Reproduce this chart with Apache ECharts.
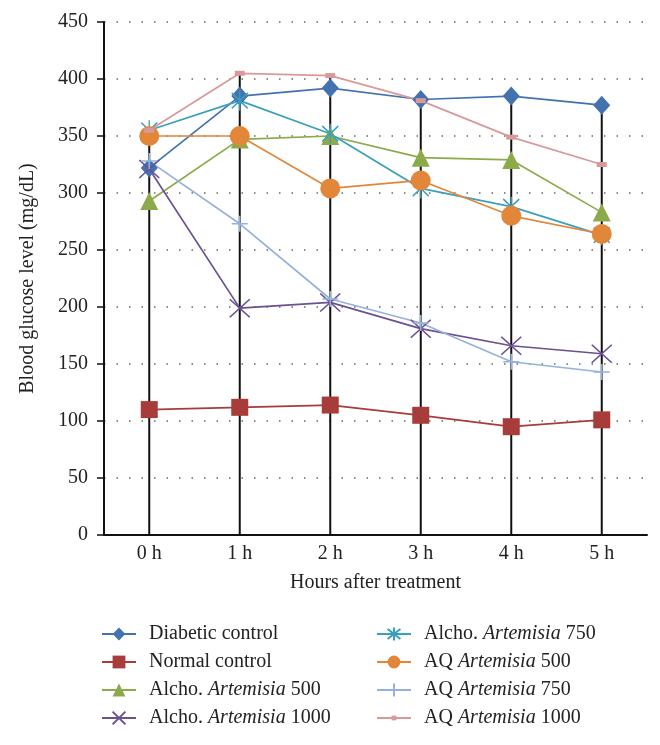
<!DOCTYPE html>
<html>
<head>
<meta charset="utf-8">
<script src="https://cdn.jsdelivr.net/npm/echarts@6/dist/echarts.min.js"></script>
<style>html,body{margin:0;padding:0;background:#fff;}#c{width:660px;height:745px;}</style>
</head>
<body>
<div id="c"></div>
<script>
const categories = ['0 h', '1 h', '2 h', '3 h', '4 h', '5 h'];
const yTicks = [0, 50, 100, 150, 200, 250, 300, 350, 400, 450];

const diabeticControl = [322, 385, 392, 382, 385, 377];
const normalControl = [110, 112, 114, 105, 95, 101];
const alcho500 = [293, 347, 350, 331, 329, 283];
const alcho1000 = [321, 199, 204, 181, 166, 159];
const alcho750 = [355, 381, 352, 304, 288, 263];
const aq500 = [350, 350, 304, 311, 280, 264];
const aq750 = [328, 273, 207, 186, 152, 143];
const aq1000 = [355, 405, 403, 381, 349, 325];

const seriesNames = ['Diabetic control', 'Normal control', 'Alcho. Artemisia 500', 'Alcho. Artemisia 1000',
  'Alcho. Artemisia 750', 'AQ Artemisia 500', 'AQ Artemisia 750', 'AQ Artemisia 1000'];
const seriesData = [diabeticControl, normalControl, alcho500, alcho1000, alcho750, aq500, aq750, aq1000];
const dropLineTops = categories.map((c, i) => Math.max(...seriesData.map(s => s[i])));

const FONT = '"Liberation Serif", "Times New Roman", serif';
const FS = 20;
const styles = [
  {color: '#4472b0', symbol: 'diamond', size: [17, 19]},
  {color: '#a83c3a', symbol: 'rect', size: 17},
  {color: '#8bab4a', symbol: 'triangle', size: 18},
  {color: '#6b5191', symbol: 'path://M0,0L10,10M10,0L0,10', size: [20, 18], stroke: true},
  {color: '#3aa0bb', symbol: 'path://M0,0L10,10M10,0L0,10M5,-1.5L5,11.5', size: [16, 20], stroke: true},
  {color: '#e2873a', symbol: 'circle', size: 20},
  {color: '#95b1dc', symbol: 'path://M5,0L5,10M0,5L10,5', size: [16, 16], stroke: true},
  {color: '#d9999a', symbol: 'rect', size: [10, 5]}
];

const lineSeries = seriesNames.map((name, i) => {
  const st = styles[i];
  return {
    name: name,
    type: 'line',
    data: seriesData[i],
    symbol: st.symbol,
    symbolSize: st.size,
    showAllSymbol: true,
    z: 3,
    lineStyle: {color: st.color, width: 1.7},
    itemStyle: st.stroke ? {color: st.color, borderColor: st.color, borderWidth: 1.5} : {color: st.color, borderWidth: 0}
  };
});

const fmt = name => name.replace('Artemisia', '{i|Artemisia}');
const legendText = {
  fontFamily: FONT, fontSize: FS, color: '#222', padding: [0, 0, 0, 8],
  rich: {i: {fontFamily: FONT, fontSize: FS, fontStyle: 'italic', color: '#222'}}
};

const option = {
  animation: false,
  backgroundColor: '#fff',
  grid: {left: 104, right: 13, top: 22, bottom: 210, containLabel: false},
  legend: [
    {orient: 'vertical', left: 96, top: 619, height: 125, itemWidth: 34, itemHeight: 16, itemGap: 8,
     data: seriesNames.slice(0, 4), formatter: fmt, textStyle: legendText, selectedMode: false},
    {orient: 'vertical', left: 371, top: 619, height: 125, itemWidth: 34, itemHeight: 16, itemGap: 8,
     data: seriesNames.slice(4, 7), formatter: fmt, textStyle: legendText, selectedMode: false},
    {orient: 'vertical', left: 371, top: 703, itemWidth: 34, itemHeight: 6, itemGap: 8,
     data: seriesNames.slice(7), formatter: fmt, textStyle: legendText, selectedMode: false}
  ],
  xAxis: {
    type: 'category',
    data: categories,
    boundaryGap: true,
    name: 'Hours after treatment',
    nameLocation: 'middle',
    nameGap: 38,
    nameTextStyle: {fontFamily: FONT, fontSize: FS, color: '#222'},
    axisLine: {lineStyle: {color: '#111', width: 2}},
    axisTick: {show: false},
    axisLabel: {fontFamily: FONT, fontSize: FS, color: '#222', margin: 9},
    splitLine: {show: false}
  },
  yAxis: {
    type: 'value',
    min: yTicks[0],
    max: yTicks[yTicks.length - 1],
    interval: 50,
    name: 'Blood glucose level (mg/dL)',
    nameLocation: 'middle',
    nameGap: 66,
    nameTextStyle: {fontFamily: FONT, fontSize: FS, color: '#222'},
    axisLine: {show: true, lineStyle: {color: '#111', width: 2}},
    axisTick: {show: true, inside: false, length: 7, lineStyle: {color: '#111', width: 1.5}},
    axisLabel: {fontFamily: FONT, fontSize: FS, color: '#222', margin: 16},
    splitLine: {show: true, lineStyle: {color: '#666', width: 1.5, type: [1.5, 11]}}
  },
  series: [
    {
      name: 'drop',
      type: 'bar',
      data: dropLineTops,
      barWidth: 2,
      z: 1,
      itemStyle: {color: '#111'},
      silent: true
    }
  ].concat(lineSeries)
};

const chart = echarts.init(document.getElementById('c'), null, {renderer: 'canvas'});
chart.setOption(option);
</script>
</body>
</html>
